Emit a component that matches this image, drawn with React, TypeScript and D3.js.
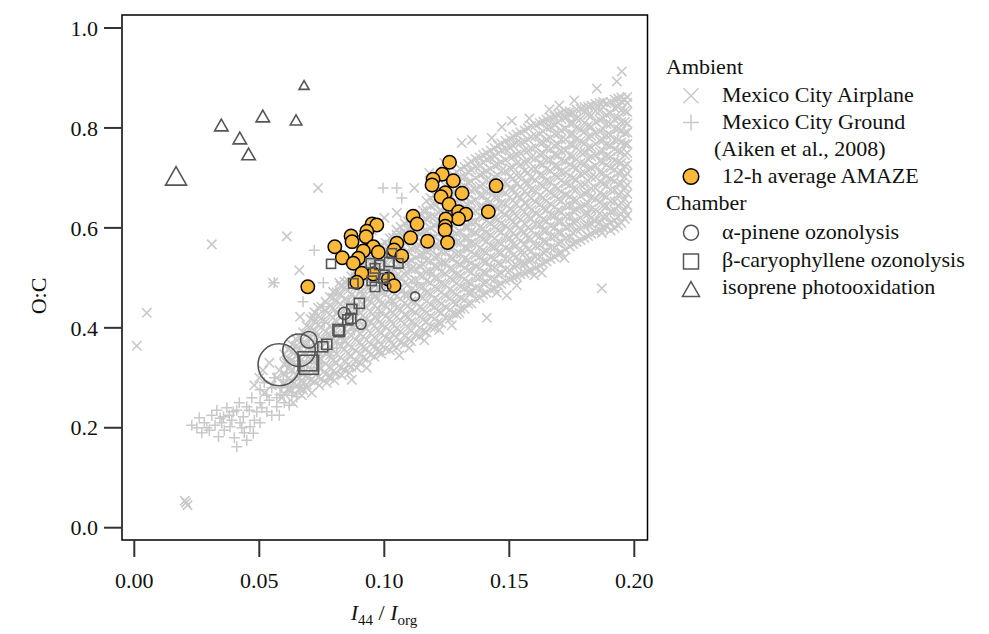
import React from "react";
import * as d3 from "d3";

// ---------- tick values ----------
const xTicks = [0, 0.05, 0.1, 0.15, 0.2];
const yTicks = [0, 0.2, 0.4, 0.6, 0.8, 1.0];

// ---------- Mexico City Airplane, flight legs A (x, then O:C values at that x) ----------
const airplaneColsA: number[][] = [
  [0.0600, 0.268, 0.287, 0.309, 0.328, 0.347],
  [0.0631, 0.275, 0.293, 0.316, 0.334, 0.353, 0.366],
  [0.0662, 0.279, 0.300, 0.318, 0.341, 0.359, 0.380],
  [0.0689, 0.286, 0.305, 0.327, 0.346, 0.368, 0.386, 0.404],
  [0.0721, 0.292, 0.313, 0.331, 0.354, 0.372, 0.395, 0.413, 0.431],
  [0.0748, 0.298, 0.319, 0.337, 0.360, 0.378, 0.401, 0.419, 0.442],
  [0.0782, 0.304, 0.322, 0.345, 0.363, 0.386, 0.404, 0.427, 0.445, 0.462],
  [0.0809, 0.309, 0.330, 0.348, 0.371, 0.389, 0.412, 0.430, 0.453, 0.471],
  [0.0841, 0.316, 0.334, 0.357, 0.375, 0.398, 0.416, 0.439, 0.457, 0.480, 0.492],
  [0.0868, 0.322, 0.343, 0.361, 0.384, 0.402, 0.425, 0.443, 0.466, 0.484, 0.503],
  [0.0902, 0.330, 0.348, 0.371, 0.389, 0.412, 0.430, 0.453, 0.471, 0.494, 0.512, 0.522],
  [0.0929, 0.337, 0.358, 0.376, 0.399, 0.417, 0.440, 0.458, 0.481, 0.499, 0.522, 0.536],
  [0.0961, 0.342, 0.363, 0.381, 0.404, 0.422, 0.445, 0.463, 0.486, 0.504, 0.527, 0.548],
  [0.0988, 0.348, 0.366, 0.389, 0.407, 0.430, 0.448, 0.471, 0.489, 0.512, 0.530, 0.553, 0.566],
  [0.1022, 0.355, 0.376, 0.394, 0.417, 0.435, 0.458, 0.476, 0.499, 0.517, 0.540, 0.558, 0.579],
  [0.1049, 0.360, 0.381, 0.399, 0.422, 0.440, 0.463, 0.481, 0.504, 0.522, 0.545, 0.563, 0.586, 0.596],
  [0.1081, 0.367, 0.385, 0.408, 0.426, 0.449, 0.467, 0.490, 0.508, 0.531, 0.549, 0.572, 0.590, 0.609],
  [0.1108, 0.373, 0.394, 0.412, 0.435, 0.453, 0.476, 0.494, 0.517, 0.535, 0.558, 0.576, 0.599, 0.617],
  [0.1142, 0.382, 0.400, 0.423, 0.441, 0.464, 0.482, 0.505, 0.523, 0.546, 0.564, 0.587, 0.605, 0.628],
  [0.1169, 0.391, 0.412, 0.430, 0.453, 0.471, 0.494, 0.512, 0.535, 0.553, 0.576, 0.594, 0.617, 0.635, 0.654],
  [0.1201, 0.400, 0.418, 0.441, 0.459, 0.482, 0.500, 0.523, 0.541, 0.564, 0.582, 0.605, 0.623, 0.646, 0.666],
  [0.1228, 0.409, 0.430, 0.448, 0.471, 0.489, 0.512, 0.530, 0.553, 0.571, 0.594, 0.612, 0.635, 0.653, 0.676],
  [0.1262, 0.418, 0.436, 0.459, 0.477, 0.500, 0.518, 0.541, 0.559, 0.582, 0.600, 0.623, 0.641, 0.664, 0.682, 0.698],
  [0.1289, 0.427, 0.448, 0.466, 0.489, 0.507, 0.530, 0.548, 0.571, 0.589, 0.612, 0.630, 0.653, 0.671, 0.694, 0.712],
  [0.1321, 0.438, 0.456, 0.479, 0.497, 0.520, 0.538, 0.561, 0.579, 0.602, 0.620, 0.643, 0.661, 0.684, 0.702, 0.722],
  [0.1348, 0.449, 0.470, 0.488, 0.511, 0.529, 0.552, 0.570, 0.593, 0.611, 0.634, 0.652, 0.675, 0.693, 0.716, 0.733],
  [0.1382, 0.460, 0.478, 0.501, 0.519, 0.542, 0.560, 0.583, 0.601, 0.624, 0.642, 0.665, 0.683, 0.706, 0.724, 0.741],
  [0.1409, 0.470, 0.491, 0.509, 0.532, 0.550, 0.573, 0.591, 0.614, 0.632, 0.655, 0.673, 0.696, 0.714, 0.737, 0.750],
  [0.1441, 0.479, 0.497, 0.520, 0.538, 0.561, 0.579, 0.602, 0.620, 0.643, 0.661, 0.684, 0.702, 0.725, 0.743, 0.760],
  [0.1468, 0.488, 0.509, 0.527, 0.550, 0.568, 0.591, 0.609, 0.632, 0.650, 0.673, 0.691, 0.714, 0.732, 0.755, 0.769],
  [0.1502, 0.497, 0.515, 0.538, 0.556, 0.579, 0.597, 0.620, 0.638, 0.661, 0.679, 0.702, 0.720, 0.743, 0.761, 0.778],
  [0.1529, 0.503, 0.524, 0.542, 0.565, 0.583, 0.606, 0.624, 0.647, 0.665, 0.688, 0.706, 0.729, 0.747, 0.770, 0.787],
  [0.1561, 0.509, 0.527, 0.550, 0.568, 0.591, 0.609, 0.632, 0.650, 0.673, 0.691, 0.714, 0.732, 0.755, 0.773, 0.795],
  [0.1588, 0.515, 0.536, 0.554, 0.577, 0.595, 0.618, 0.636, 0.659, 0.677, 0.700, 0.718, 0.741, 0.759, 0.782, 0.804],
  [0.1622, 0.524, 0.542, 0.565, 0.583, 0.606, 0.624, 0.647, 0.665, 0.688, 0.706, 0.729, 0.747, 0.770, 0.788, 0.810],
  [0.1649, 0.533, 0.554, 0.572, 0.595, 0.613, 0.636, 0.654, 0.677, 0.695, 0.718, 0.736, 0.759, 0.777, 0.800, 0.817],
  [0.1681, 0.542, 0.560, 0.583, 0.601, 0.624, 0.642, 0.665, 0.683, 0.706, 0.724, 0.747, 0.765, 0.788, 0.806, 0.823],
  [0.1708, 0.551, 0.572, 0.590, 0.613, 0.631, 0.654, 0.672, 0.695, 0.713, 0.736, 0.754, 0.777, 0.795, 0.818, 0.830],
  [0.1742, 0.563, 0.581, 0.604, 0.622, 0.645, 0.663, 0.686, 0.704, 0.727, 0.745, 0.768, 0.786, 0.809, 0.827, 0.833],
  [0.1769, 0.572, 0.596, 0.614, 0.637, 0.655, 0.678, 0.696, 0.719, 0.737, 0.760, 0.778, 0.801, 0.819, 0.837],
  [0.1801, 0.580, 0.605, 0.628, 0.646, 0.669, 0.687, 0.710, 0.728, 0.751, 0.769, 0.792, 0.810, 0.833, 0.842],
  [0.1828, 0.588, 0.608, 0.620, 0.638, 0.661, 0.679, 0.702, 0.720, 0.743, 0.761, 0.784, 0.802, 0.825, 0.845],
  [0.1862, 0.596, 0.611, 0.629, 0.652, 0.670, 0.693, 0.711, 0.734, 0.752, 0.775, 0.793, 0.816, 0.834, 0.850],
  [0.1889, 0.605, 0.623, 0.644, 0.662, 0.685, 0.703, 0.726, 0.744, 0.767, 0.785, 0.808, 0.826, 0.849],
  [0.1921, 0.600, 0.615, 0.635, 0.653, 0.676, 0.694, 0.717, 0.735, 0.758, 0.776, 0.799, 0.817, 0.840, 0.857],
  [0.1948, 0.610, 0.628, 0.650, 0.671, 0.689, 0.712, 0.730, 0.753, 0.771, 0.794, 0.812, 0.835, 0.853, 0.861],
  [0.1972, 0.625, 0.645, 0.668, 0.686, 0.709, 0.727, 0.750, 0.768, 0.791, 0.809, 0.832, 0.850, 0.862],
];

// ---------- Mexico City Airplane, flight legs B ----------
const airplaneColsB: number[][] = [
  [0.0615, 0.278, 0.298, 0.318, 0.338, 0.357],
  [0.0646, 0.284, 0.305, 0.325, 0.344, 0.363, 0.378],
  [0.0675, 0.289, 0.310, 0.330, 0.350, 0.370, 0.391],
  [0.0705, 0.295, 0.316, 0.338, 0.358, 0.380, 0.400, 0.418],
  [0.0735, 0.301, 0.322, 0.343, 0.365, 0.385, 0.406, 0.425, 0.440],
  [0.0765, 0.307, 0.328, 0.350, 0.371, 0.392, 0.412, 0.433, 0.452],
  [0.0795, 0.313, 0.335, 0.356, 0.378, 0.398, 0.420, 0.440, 0.460, 0.472],
  [0.0825, 0.320, 0.341, 0.363, 0.384, 0.405, 0.426, 0.447, 0.467, 0.484],
  [0.0855, 0.326, 0.348, 0.369, 0.391, 0.412, 0.433, 0.454, 0.475, 0.494],
  [0.0885, 0.333, 0.355, 0.376, 0.397, 0.419, 0.440, 0.461, 0.482, 0.502, 0.515],
  [0.0915, 0.340, 0.361, 0.383, 0.404, 0.425, 0.447, 0.468, 0.489, 0.510, 0.528],
  [0.0945, 0.346, 0.367, 0.389, 0.410, 0.432, 0.453, 0.475, 0.496, 0.517, 0.538],
  [0.0975, 0.352, 0.374, 0.395, 0.417, 0.438, 0.460, 0.481, 0.503, 0.524, 0.545, 0.560],
  [0.1005, 0.358, 0.380, 0.402, 0.423, 0.445, 0.467, 0.488, 0.510, 0.531, 0.552, 0.570],
  [0.1035, 0.365, 0.387, 0.408, 0.430, 0.452, 0.473, 0.495, 0.517, 0.538, 0.560, 0.580],
  [0.1065, 0.371, 0.393, 0.415, 0.437, 0.458, 0.480, 0.502, 0.524, 0.545, 0.567, 0.588, 0.602],
  [0.1095, 0.378, 0.400, 0.422, 0.444, 0.465, 0.487, 0.509, 0.531, 0.553, 0.574, 0.596, 0.613],
  [0.1125, 0.386, 0.408, 0.430, 0.452, 0.474, 0.496, 0.518, 0.540, 0.561, 0.583, 0.605, 0.622],
  [0.1155, 0.394, 0.416, 0.438, 0.460, 0.482, 0.504, 0.526, 0.548, 0.570, 0.592, 0.614, 0.634],
  [0.1185, 0.402, 0.424, 0.446, 0.468, 0.490, 0.512, 0.534, 0.556, 0.578, 0.600, 0.622, 0.644, 0.660],
  [0.1215, 0.411, 0.433, 0.455, 0.477, 0.499, 0.521, 0.543, 0.565, 0.587, 0.609, 0.631, 0.653, 0.672],
  [0.1245, 0.420, 0.442, 0.464, 0.486, 0.508, 0.530, 0.552, 0.574, 0.596, 0.618, 0.640, 0.662, 0.684],
  [0.1275, 0.429, 0.451, 0.473, 0.495, 0.517, 0.539, 0.561, 0.583, 0.605, 0.627, 0.649, 0.671, 0.693, 0.706],
  [0.1305, 0.438, 0.460, 0.482, 0.504, 0.526, 0.548, 0.570, 0.592, 0.614, 0.636, 0.658, 0.680, 0.702, 0.718],
  [0.1335, 0.448, 0.470, 0.492, 0.514, 0.536, 0.558, 0.580, 0.602, 0.624, 0.646, 0.668, 0.690, 0.712, 0.728],
  [0.1365, 0.458, 0.480, 0.502, 0.524, 0.546, 0.568, 0.590, 0.612, 0.634, 0.656, 0.678, 0.700, 0.722, 0.738],
  [0.1395, 0.467, 0.489, 0.511, 0.533, 0.555, 0.577, 0.599, 0.621, 0.643, 0.665, 0.687, 0.709, 0.731, 0.746],
  [0.1425, 0.476, 0.498, 0.520, 0.542, 0.564, 0.586, 0.608, 0.630, 0.652, 0.674, 0.696, 0.718, 0.740, 0.755],
  [0.1455, 0.485, 0.507, 0.529, 0.551, 0.573, 0.595, 0.617, 0.639, 0.661, 0.683, 0.705, 0.727, 0.749, 0.765],
  [0.1485, 0.494, 0.516, 0.538, 0.560, 0.582, 0.604, 0.626, 0.648, 0.670, 0.692, 0.714, 0.736, 0.758, 0.774],
  [0.1515, 0.501, 0.523, 0.545, 0.567, 0.589, 0.611, 0.633, 0.655, 0.677, 0.699, 0.721, 0.743, 0.765, 0.783],
  [0.1545, 0.507, 0.529, 0.551, 0.573, 0.595, 0.617, 0.639, 0.661, 0.683, 0.705, 0.727, 0.749, 0.771, 0.791],
  [0.1575, 0.513, 0.535, 0.557, 0.579, 0.601, 0.623, 0.645, 0.667, 0.689, 0.711, 0.733, 0.755, 0.777, 0.799],
  [0.1605, 0.520, 0.542, 0.564, 0.586, 0.608, 0.630, 0.652, 0.674, 0.696, 0.718, 0.740, 0.762, 0.784, 0.806],
  [0.1635, 0.529, 0.551, 0.573, 0.595, 0.617, 0.639, 0.661, 0.683, 0.705, 0.727, 0.749, 0.771, 0.793, 0.813],
  [0.1665, 0.538, 0.560, 0.582, 0.604, 0.626, 0.648, 0.670, 0.692, 0.714, 0.736, 0.758, 0.780, 0.802, 0.820],
  [0.1695, 0.547, 0.569, 0.591, 0.613, 0.635, 0.657, 0.679, 0.701, 0.723, 0.745, 0.767, 0.789, 0.811, 0.827],
  [0.1725, 0.557, 0.579, 0.601, 0.623, 0.645, 0.667, 0.689, 0.711, 0.733, 0.755, 0.777, 0.799, 0.821, 0.832],
  [0.1755, 0.568, 0.590, 0.612, 0.634, 0.656, 0.678, 0.700, 0.722, 0.744, 0.766, 0.788, 0.810, 0.830],
  [0.1785, 0.576, 0.598, 0.620, 0.642, 0.664, 0.686, 0.708, 0.730, 0.752, 0.774, 0.796, 0.818, 0.838],
  [0.1815, 0.584, 0.606, 0.628, 0.650, 0.672, 0.694, 0.716, 0.738, 0.760, 0.782, 0.804, 0.826, 0.843],
  [0.1845, 0.592, 0.614, 0.636, 0.658, 0.680, 0.702, 0.724, 0.746, 0.768, 0.790, 0.812, 0.834, 0.848],
  [0.1875, 0.600, 0.622, 0.644, 0.666, 0.688, 0.710, 0.732, 0.754, 0.776, 0.798, 0.820, 0.842, 0.852],
  [0.1905, 0.595, 0.610, 0.632, 0.654, 0.676, 0.698, 0.720, 0.742, 0.764, 0.786, 0.808, 0.830, 0.852],
  [0.1935, 0.605, 0.622, 0.644, 0.666, 0.688, 0.710, 0.732, 0.754, 0.776, 0.798, 0.820, 0.842, 0.859],
  [0.1962, 0.618, 0.636, 0.658, 0.680, 0.702, 0.724, 0.746, 0.768, 0.790, 0.812, 0.834, 0.856],
];

// scattered airplane points outside the dense band
const airplaneOut: number[][] = [
  [0.001, 0.364], [0.005, 0.43], [0.031, 0.567], [0.0207, 0.05], [0.0213, 0.045], [0.0202, 0.054],
  [0.0735, 0.68], [0.061, 0.583], [0.066, 0.515], [0.0555, 0.49], [0.0515, 0.315], [0.0635, 0.25],
  [0.0675, 0.276], [0.0743, 0.336], [0.087, 0.296], [0.0983, 0.355], [0.0663, 0.422], [0.0716, 0.422],
  [0.195, 0.913], [0.193, 0.893], [0.185, 0.879], [0.176, 0.855], [0.166, 0.837], [0.158, 0.819],
  [0.151, 0.814], [0.147, 0.802], [0.143, 0.78], [0.135, 0.776], [0.131, 0.77], [0.124, 0.73],
  [0.118, 0.71], [0.112, 0.68], [0.100, 0.62], [0.105, 0.63], [0.090, 0.58], [0.095, 0.595],
  [0.135, 0.475], [0.149, 0.465], [0.156, 0.53], [0.187, 0.59], [0.187, 0.479], [0.184, 0.615],
  [0.141, 0.42], [0.122, 0.396], [0.130, 0.43], [0.160, 0.505], [0.172, 0.54], [0.110, 0.36],
  [0.082, 0.49], [0.078, 0.30], [0.093, 0.32], [0.106, 0.345], [0.116, 0.375], [0.170, 0.845],
  [0.052, 0.27], [0.055, 0.285], [0.057, 0.30], [0.059, 0.26], [0.062, 0.275], [0.064, 0.29],
  [0.067, 0.265], [0.069, 0.28], [0.071, 0.27], [0.074, 0.285], [0.077, 0.29], [0.080, 0.295],
  [0.083, 0.305], [0.086, 0.31], [0.089, 0.32], [0.058, 0.315], [0.061, 0.33], [0.054, 0.33],
  [0.050, 0.30], [0.048, 0.285], [0.145, 0.47], [0.153, 0.485], [0.163, 0.51], [0.127, 0.405],
];

// ---------- Mexico City Ground ----------
const groundPts: number[][] = [
  [0.0337, 0.182], [0.041, 0.162], [0.0323, 0.205], [0.0357, 0.222], [0.0396, 0.232], [0.0436, 0.222],
  [0.0463, 0.202], [0.0503, 0.21], [0.045, 0.242], [0.0503, 0.25], [0.054, 0.255], [0.057, 0.242],
  [0.0583, 0.266], [0.0503, 0.276], [0.0623, 0.282], [0.065, 0.262], [0.0596, 0.296], [0.0663, 0.296],
  [0.0476, 0.189], [0.0383, 0.202], [0.0343, 0.219], [0.0423, 0.21], [0.053, 0.232], [0.049, 0.232],
  [0.069, 0.329], [0.0675, 0.452], [0.0756, 0.442], [0.028, 0.21], [0.031, 0.225], [0.037, 0.24],
  [0.042, 0.25], [0.047, 0.26], [0.055, 0.28], [0.061, 0.31], [0.064, 0.325], [0.056, 0.3],
  [0.052, 0.29], [0.036, 0.195], [0.044, 0.19], [0.030, 0.195], [0.026, 0.22], [0.039, 0.215],
  [0.058, 0.225], [0.062, 0.245], [0.068, 0.31], [0.071, 0.34],
  [0.029, 0.20], [0.033, 0.235], [0.035, 0.21], [0.038, 0.225], [0.041, 0.235], [0.043, 0.20],
  [0.046, 0.235], [0.048, 0.215], [0.051, 0.24], [0.053, 0.265], [0.055, 0.225], [0.057, 0.26],
  [0.059, 0.28], [0.060, 0.25], [0.063, 0.265], [0.066, 0.28], [0.067, 0.315], [0.070, 0.30],
  [0.073, 0.32], [0.075, 0.33], [0.078, 0.345], [0.081, 0.36], [0.023, 0.205], [0.025, 0.20],
  [0.027, 0.19], [0.040, 0.18], [0.045, 0.175],
  [0.070, 0.36], [0.074, 0.345], [0.077, 0.38], [0.080, 0.40], [0.083, 0.37], [0.085, 0.42],
  [0.088, 0.395], [0.090, 0.44], [0.093, 0.415], [0.095, 0.46], [0.098, 0.43], [0.100, 0.48],
  [0.103, 0.45], [0.105, 0.50], [0.108, 0.47], [0.110, 0.52], [0.113, 0.49], [0.115, 0.54],
  [0.118, 0.51], [0.120, 0.56], [0.123, 0.53], [0.126, 0.575], [0.072, 0.385], [0.076, 0.41],
  [0.082, 0.43], [0.086, 0.45], [0.091, 0.47], [0.096, 0.49], [0.101, 0.51],
  [0.0995, 0.68], [0.105, 0.68], [0.107, 0.66], [0.072, 0.555], [0.0756, 0.49], [0.056, 0.49],
];

// ---------- 12-h average AMAZE ----------
const amaze: number[][] = [
  [0.1261, 0.7312], [0.1232, 0.7072], [0.1276, 0.6944], [0.1195, 0.6972], [0.1191, 0.6858],
  [0.1447, 0.6844], [0.1244, 0.6704], [0.1227, 0.6624], [0.1311, 0.6692], [0.1259, 0.6474],
  [0.1297, 0.6324], [0.1326, 0.6272], [0.1297, 0.6184], [0.1416, 0.6324], [0.1115, 0.6232],
  [0.1131, 0.6078], [0.1246, 0.6178], [0.1244, 0.6032], [0.1243, 0.5958], [0.1105, 0.5803],
  [0.1173, 0.5733], [0.1253, 0.5707], [0.0951, 0.6078], [0.0970, 0.6058], [0.0930, 0.5932],
  [0.0927, 0.5824], [0.0867, 0.5838], [0.0871, 0.5724], [0.0802, 0.5623], [0.1050, 0.5691],
  [0.1039, 0.5557], [0.0956, 0.5623], [0.0976, 0.5511], [0.0916, 0.5537], [0.0832, 0.5403],
  [0.0896, 0.5391], [0.0876, 0.5291], [0.1070, 0.5437], [0.0956, 0.5077], [0.0910, 0.5091],
  [0.1016, 0.4977], [0.1039, 0.4843], [0.0890, 0.4911], [0.0694, 0.4823],
];

// ---------- Chamber: x, O:C, relative marker magnitude ----------
const pinene: number[][] = [
  [0.0579, 0.326, 100], [0.0659, 0.355, 60], [0.0698, 0.376, 15.6], [0.0840, 0.429, 8.2],
  [0.0907, 0.407, 5.7], [0.1123, 0.463, 4.6], [0.1008, 0.483, 4.6],
];
const caryophyllene: number[][] = [
  [0.0693, 0.333, 20.5], [0.0699, 0.326, 20.5], [0.0770, 0.367, 5.7], [0.0754, 0.362, 5.7],
  [0.0816, 0.396, 6.5], [0.0820, 0.393, 6.5], [0.0854, 0.416, 5.7], [0.0866, 0.419, 5.7],
  [0.0900, 0.449, 5.7], [0.0787, 0.528, 4.6], [0.0876, 0.489, 5], [0.0946, 0.529, 5],
  [0.0963, 0.519, 5], [0.0963, 0.482, 5], [0.0980, 0.526, 5], [0.1000, 0.506, 5],
  [0.1020, 0.532, 5], [0.1030, 0.549, 5], [0.1056, 0.529, 5], [0.0870, 0.437, 5.7],
  [0.0950, 0.494, 5], [0.0996, 0.499, 5],
];
const isoprene: number[][] = [
  [0.0167, 0.704, 25], [0.0348, 0.806, 10.3], [0.0422, 0.780, 10.3], [0.0457, 0.748, 10.3],
  [0.0514, 0.824, 10.3], [0.0647, 0.816, 7.5], [0.0679, 0.886, 5.7],
];

const FONT = "'Liberation Serif', 'Times New Roman', serif";
const GREY = "#c9c9c9";
const DARK = "#555555";
const ORANGE = "#FDB93A";

const crossPath = (a: number) => `M${-a},${-a}L${a},${a}M${-a},${a}L${a},${-a}`;
const plusPath = (a: number) => `M${-a},0L${a},0M0,${-a}L0,${a}`;
const triPath = (s: number) => {
  const h = s * 1.75;
  return `M0,${-h / 2}L${s},${h / 2}L${-s},${h / 2}Z`;
};

export default function App() {
  const W = 989, H = 634;
  const left = 122, right = 647.5, top = 15, bottom = 540;
  const x = d3.scaleLinear().domain([0, 0.2]).range([134.3, 634.3]);
  const y = d3.scaleLinear().domain([0, 1]).range([527.7, 28]);
  const sz = d3.scaleSqrt().domain([0, 100]).range([0, 21]);

  const flat = (cols: number[][]) => cols.flatMap((c) => c.slice(1).map((v) => [c[0], v]));
  const airplane: number[][] = [...flat(airplaneColsA), ...flat(airplaneColsB), ...airplaneOut];

  const legendItems = [
    { t: "Ambient", head: true, yb: 74 },
    { t: "Mexico City Airplane", m: "x", yb: 102, my: 95.7 },
    { t: "Mexico City Ground", m: "+", yb: 129, my: 122.5 },
    { t: "(Aiken et al., 2008)", sub: true, yb: 156 },
    { t: "12-h average AMAZE", m: "o", yb: 183, my: 176.5 },
    { t: "Chamber", head: true, yb: 210 },
    { t: "α-pinene ozonolysis", m: "c", yb: 239, my: 232.7 },
    { t: "β-caryophyllene ozonolysis", m: "s", yb: 267, my: 261.5 },
    { t: "isoprene photooxidation", m: "t", yb: 294, my: 289 },
  ];

  return (
    <svg width={W} height={H} style={{ position: "absolute", left: 0, top: 0, background: "#fff" }}
      fontFamily={FONT}>
      <rect x={0} y={0} width={W} height={H} fill="#fff" />
      {/* airplane */}
      <g stroke={GREY} strokeWidth={1.6} fill="none">
        {airplane.map((d, i) => (
          <path key={"a" + i} transform={`translate(${x(d[0])},${y(d[1])})`} d={crossPath(4.7)} />
        ))}
      </g>
      {/* ground */}
      <g stroke={GREY} strokeWidth={1.5} fill="none">
        {groundPts.map((d, i) => (
          <path key={"g" + i} transform={`translate(${x(d[0])},${y(d[1])})`} d={plusPath(5.5)} />
        ))}
      </g>
      {/* AMAZE */}
      <g stroke="#000" strokeWidth={1.5} fill={ORANGE}>
        {amaze.map((d, i) => (
          <circle key={"o" + i} cx={x(d[0])} cy={y(d[1])} r={6.7} />
        ))}
      </g>
      {/* chamber */}
      <g stroke={DARK} strokeWidth={1.6} fill="none">
        {pinene.map((d, i) => (
          <circle key={"p" + i} cx={x(d[0])} cy={y(d[1])} r={sz(d[2])} />
        ))}
        {caryophyllene.map((d, i) => {
          const s = sz(d[2]);
          return <rect key={"c" + i} x={x(d[0]) - s} y={y(d[1]) - s} width={2 * s} height={2 * s} />;
        })}
        {isoprene.map((d, i) => (
          <path key={"i" + i} transform={`translate(${x(d[0])},${y(d[1])})`} d={triPath(sz(d[2]))} />
        ))}
      </g>
      {/* frame */}
      <rect x={left} y={top} width={right - left} height={bottom - top} fill="none" stroke="#000" strokeWidth={1.5} />
      {/* ticks */}
      <g stroke="#333" strokeWidth={2}>
        {yTicks.map((t) => (
          <line key={"yt" + t} x1={left - 18} x2={left} y1={y(t)} y2={y(t)} />
        ))}
        {xTicks.map((t) => (
          <line key={"xt" + t} x1={x(t)} x2={x(t)} y1={bottom} y2={bottom + 17} />
        ))}
      </g>
      <g fontSize={22} fill="#111">
        {yTicks.map((t) => (
          <text key={"yl" + t} x={98} y={y(t)} dy="0.35em" textAnchor="end">{d3.format(".1f")(t)}</text>
        ))}
        {xTicks.map((t) => (
          <text key={"xl" + t} x={x(t)} y={588} textAnchor="middle">{d3.format(".2f")(t)}</text>
        ))}
      </g>
      {/* axis titles */}
      <text x={384} y={620} textAnchor="middle" fontSize={22} fill="#111">
        <tspan fontStyle="italic">I</tspan>
        <tspan fontSize={15} dy={5}>44</tspan>
        <tspan dy={-5}> / </tspan>
        <tspan fontStyle="italic">I</tspan>
        <tspan fontSize={15} dy={5}>org</tspan>
      </text>
      <text transform="translate(46,296) rotate(-90)" textAnchor="middle" fontSize={22} fill="#111">O:C</text>
      {/* legend */}
      <g fontSize={22} fill="#111">
        {legendItems.map((it, i) => {
          const tx = it.head ? 666 : it.sub ? 714 : 722;
          let mk: React.ReactNode = null;
          const mx = 691;
          if (it.m === "x") mk = <path transform={`translate(${mx},${it.my})`} d={crossPath(7.5)} stroke={GREY} strokeWidth={1.5} fill="none" />;
          if (it.m === "+") mk = <path transform={`translate(${mx},${it.my})`} d={plusPath(8)} stroke={GREY} strokeWidth={1.5} fill="none" />;
          if (it.m === "o") mk = <circle cx={mx} cy={it.my} r={7.8} fill={ORANGE} stroke="#000" strokeWidth={1.5} />;
          if (it.m === "c") mk = <circle cx={mx} cy={it.my} r={7.5} fill="none" stroke={DARK} strokeWidth={1.5} />;
          if (it.m === "s") mk = <rect x={mx - 7.5} y={(it.my as number) - 7.5} width={15} height={15} fill="none" stroke={DARK} strokeWidth={1.5} />;
          if (it.m === "t") mk = <path transform={`translate(${mx},${it.my})`} d={triPath(8.5)} fill="none" stroke={DARK} strokeWidth={1.5} />;
          return (
            <g key={"lg" + i}>
              {mk}
              <text x={tx} y={it.yb}>{it.t}</text>
            </g>
          );
        })}
      </g>
    </svg>
  );
}
